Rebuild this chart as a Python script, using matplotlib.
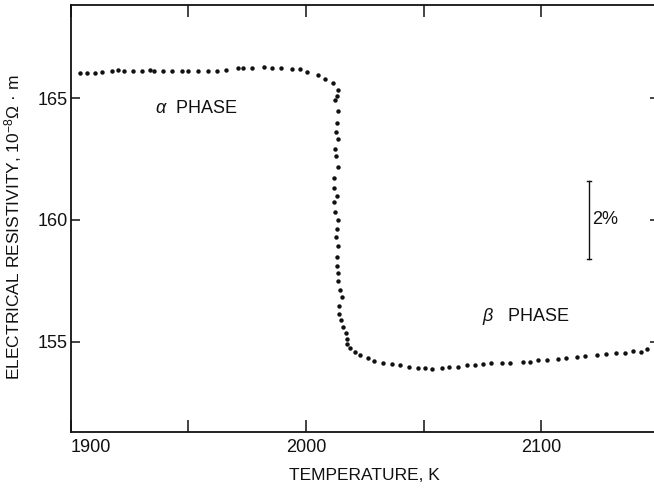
import matplotlib
matplotlib.use("Agg")
import matplotlib.pyplot as plt

plt.rcParams['font.family'] = ['Liberation Sans', 'DejaVu Sans']
plt.rcParams['mathtext.fontset'] = 'custom'
plt.rcParams['mathtext.rm'] = 'Liberation Sans'
plt.rcParams['mathtext.it'] = 'Liberation Sans:italic'

# Measured points (temperature K, resistivity 1e-8 ohm m)
temperature = [
    1903.9, 1906.8, 1910.3, 1913.4, 1917.7, 1920.0, 1922.6, 1926.6, 1930.1, 1933.7,
    1935.5, 1939.3, 1942.9, 1947.1, 1949.9, 1954.2, 1958.4, 1962.0, 1966.2, 1971.2,
    1973.3, 1977.1, 1982.1, 1985.5, 1989.4, 1994.0, 1997.5, 2000.5, 2004.9, 2008.0,
    2011.3, 2013.5, 2013.0, 2012.5, 2013.4, 2013.0, 2012.8, 2013.4, 2012.5, 2012.7,
    2013.4, 2012.1, 2012.1, 2013.2, 2011.9, 2012.5, 2013.5, 2013.2, 2012.7, 2013.6,
    2013.0, 2013.2, 2013.8, 2013.8, 2014.4, 2015.1, 2014.1, 2014.1, 2014.7, 2015.8,
    2016.8, 2017.6, 2017.6, 2018.9, 2021.0, 2023.1, 2026.5, 2028.7, 2032.6, 2036.6,
    2040.1, 2043.7, 2047.6, 2050.7, 2053.5, 2057.7, 2060.6, 2064.5, 2068.4, 2071.7,
    2075.3, 2078.8, 2083.3, 2086.5, 2092.2, 2095.0, 2098.6, 2102.5, 2107.0, 2110.6,
    2115.1, 2118.4, 2123.8, 2127.6, 2131.8, 2135.4, 2138.8, 2142.2, 2144.8,
]
resistivity = [
    166.03, 166.03, 166.03, 166.09, 166.10, 166.15, 166.13, 166.13, 166.13, 166.15,
    166.13, 166.13, 166.13, 166.13, 166.13, 166.13, 166.13, 166.13, 166.18, 166.23,
    166.23, 166.23, 166.27, 166.23, 166.26, 166.19, 166.20, 166.09, 165.96, 165.81,
    165.61, 165.35, 165.11, 164.93, 164.46, 164.00, 163.60, 163.32, 162.93, 162.62,
    162.17, 161.71, 161.33, 161.00, 160.73, 160.33, 159.99, 159.61, 159.31, 158.93,
    158.49, 158.12, 157.81, 157.49, 157.11, 156.82, 156.47, 156.15, 155.90, 155.62,
    155.35, 155.12, 154.91, 154.73, 154.58, 154.47, 154.32, 154.19, 154.11, 154.08,
    154.03, 153.97, 153.93, 153.91, 153.89, 153.92, 153.97, 153.95, 154.03, 154.06,
    154.08, 154.11, 154.12, 154.14, 154.17, 154.18, 154.23, 154.25, 154.28, 154.32,
    154.38, 154.41, 154.45, 154.48, 154.52, 154.54, 154.62, 154.59, 154.69,
]

x_ticks = [1900, 1950, 2000, 2050, 2100]
x_tick_labels = ["1900", "", "2000", "", "2100"]
y_ticks = [155, 160, 165]
y_tick_labels = ["155", "160", "165"]
scale_bar = [158.4, 161.6]  # 2% bar
scale_bar_T = 2120.2

ink = '#111111'
fig = plt.figure(figsize=(6.54, 4.88), dpi=100)
ax = fig.add_axes([70.7 / 654, 56.3 / 488, (659 - 70.7) / 654, (431.7 - 5.3) / 488])

ax.plot(temperature, resistivity, linestyle='none', marker='o', ms=3.2,
        color=ink, markeredgewidth=0)

ax.set_xlim(1900, 2150)
ax.set_ylim(151.30, 168.82)

ax.set_xticks(x_ticks)
ax.set_xticklabels(x_tick_labels)
ax.set_yticks(y_ticks)
ax.set_yticklabels(y_tick_labels)
ax.tick_params(axis='x', which='major', direction='in', length=8.5, width=1.1,
               top=True, bottom=True, labelsize=13, pad=5, colors=ink)
ax.tick_params(axis='y', which='major', direction='in', length=6.5, width=1.1,
               left=True, right=True, labelsize=13, pad=2, colors=ink)
ax.get_xticklabels()[0].set_horizontalalignment('left')

for s in ax.spines.values():
    s.set_linewidth(1.3)
    s.set_color(ink)

ax.set_xlabel("TEMPERATURE, K", fontsize=12.5, color=ink, labelpad=9)
ax.set_ylabel("ELECTRICAL RESISTIVITY, 10$^{-8}$Ω · m", fontsize=12.5, color=ink)
ax.yaxis.set_label_coords(-0.080, 0.48)

ax.text(1935.8, 164.6, r"$\alpha$  PHASE", fontsize=13, color=ink,
        va='center', ha='left')
ax.text(2074.8, 156.03, r"$\beta$   PHASE", fontsize=13, color=ink,
        va='center', ha='left')

# 2% scale bar
ax.plot([scale_bar_T, scale_bar_T], scale_bar, color=ink, lw=1.0)
ax.plot([scale_bar_T - 1.0, scale_bar_T + 1.0], [scale_bar[0]] * 2, color=ink, lw=1.0)
ax.plot([scale_bar_T - 1.0, scale_bar_T + 1.0], [scale_bar[1]] * 2, color=ink, lw=1.0)
ax.text(scale_bar_T + 1.5, sum(scale_bar) / 2, "2%", fontsize=13, color=ink,
        va='center', ha='left')

fig.savefig("out.png", dpi=100)
